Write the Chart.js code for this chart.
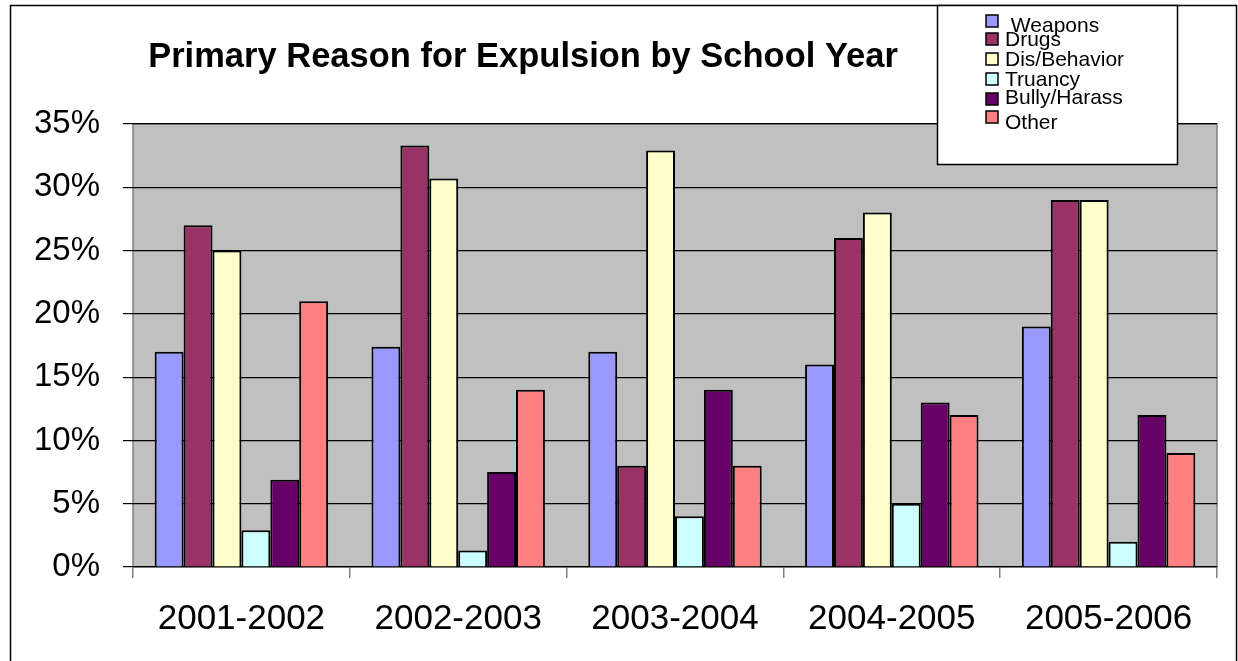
<!DOCTYPE html>
<html>
<head>
<meta charset="utf-8">
<script src="https://cdn.jsdelivr.net/npm/chart.js@4"></script>
<style>
body { margin: 0; background: #fff; }
canvas { display: block; }
</style>
</head>
<body>
<canvas id="myChart" width="1238" height="661"></canvas>
<script>
// expulsion share by reason, per school year (percent)
var years = ["2001-2002", "2002-2003", "2003-2004", "2004-2005", "2005-2006"];
var weapons = [17, 17.4, 17, 16, 19];
var drugs = [27, 33.3, 8, 26, 29];
var behavior = [25, 30.7, 32.9, 28, 29];
var truancy = [2.9, 1.3, 4, 5, 2];
var bully = [6.9, 7.5, 14, 13, 12];
var other = [21, 14, 8, 12, 9];
var seriesNames = [" Weapons", "Drugs", "Dis/Behavior", "Truancy", "Bully/Harass", "Other"];
var barColors = ["#9999FF", "#993366", "#FFFFCC", "#CCFFFF", "#660066", "#FF8080"];

var FONT = "'Liberation Sans', Arial, sans-serif";

// white page, outer frame and grey plot background
var backdrop = {
    id: "backdrop",
    beforeDraw: function(chart) {
        var ctx = chart.ctx, a = chart.chartArea;
        ctx.save();
        ctx.fillStyle = "#fff";
        ctx.fillRect(0, 0, chart.width, chart.height);
        ctx.fillStyle = "#C0C0C0";
        ctx.fillRect(a.left, a.top, a.right - a.left, a.bottom - a.top);
        ctx.strokeStyle = "#808080";
        ctx.lineWidth = 1.5;
        ctx.strokeRect(a.left, a.top, a.right - a.left, a.bottom - a.top);
        ctx.strokeStyle = "#000";
        ctx.lineWidth = 1.5;
        ctx.strokeRect(10.5, 5.5, 1226, 700);
        ctx.restore();
    },
    afterDraw: function(chart) {
        var ctx = chart.ctx;
        ctx.save();
        // title
        ctx.fillStyle = "#000";
        ctx.font = "bold 34.5px " + FONT;
        ctx.textAlign = "center";
        ctx.textBaseline = "alphabetic";
        ctx.fillText("Primary Reason for Expulsion by School Year", 523, 67);

        // legend box
        ctx.fillStyle = "#fff";
        ctx.fillRect(937, 5, 240, 159);
        ctx.strokeStyle = "#000";
        ctx.lineWidth = 1.5;
        ctx.strokeRect(937.5, 5.5, 240, 159);

        var boxTop = [15, 33, 53, 73, 93, 111];
        var textBase = [32, 46, 66, 86, 104, 129];
        ctx.font = "21px " + FONT;
        ctx.textAlign = "left";
        chart.data.datasets.forEach(function(ds, i) {
            ctx.fillStyle = ds.backgroundColor;
            ctx.fillRect(986, boxTop[i], 12, 12);
            ctx.strokeStyle = "#000";
            ctx.lineWidth = 1.5;
            ctx.strokeRect(986, boxTop[i], 12, 12);
            ctx.fillStyle = "#000";
            ctx.fillText(ds.label, 1005, textBase[i]);
        });
        ctx.restore();
    }
};

var seriesData = [weapons, drugs, behavior, truancy, bully, other];

new Chart("myChart", {
    type: "bar",
    data: {
        labels: years,
        datasets: seriesData.map(function(vals, i) {
            return {
                label: seriesNames[i],
                data: vals,
                backgroundColor: barColors[i],
                borderColor: "#000",
                borderWidth: 2,
                categoryPercentage: 0.8,
                barPercentage: 1.0
            };
        })
    },
    options: {
        responsive: false,
        animation: false,
        devicePixelRatio: 1,
        layout: { padding: { top: 124, right: 21, left: 0, bottom: 0 } },
        plugins: {
            legend: { display: false },
            title: { display: false },
            tooltip: { enabled: false }
        },
        scales: {
            x: {
                afterFit: function(scale) { scale.height = 94; },
                grid: {
                    offset: true,
                    drawOnChartArea: false,
                    color: "#808080",
                    lineWidth: 1.5,
                    tickLength: 11
                },
                border: { display: false },
                ticks: {
                    color: "#000",
                    padding: 20,
                    font: { family: FONT, size: 35 }
                }
            },
            y: {
                min: 0,
                max: 35,
                afterFit: function(scale) { scale.width = 133; },
                grid: {
                    color: "#000",
                    lineWidth: 1.2,
                    tickLength: 10
                },
                border: { display: false },
                ticks: {
                    stepSize: 5,
                    color: "#000",
                    padding: 23,
                    font: { family: FONT, size: 33 },
                    callback: function(v) { return v + "%"; }
                }
            }
        }
    },
    plugins: [backdrop]
});
</script>
</body>
</html>
